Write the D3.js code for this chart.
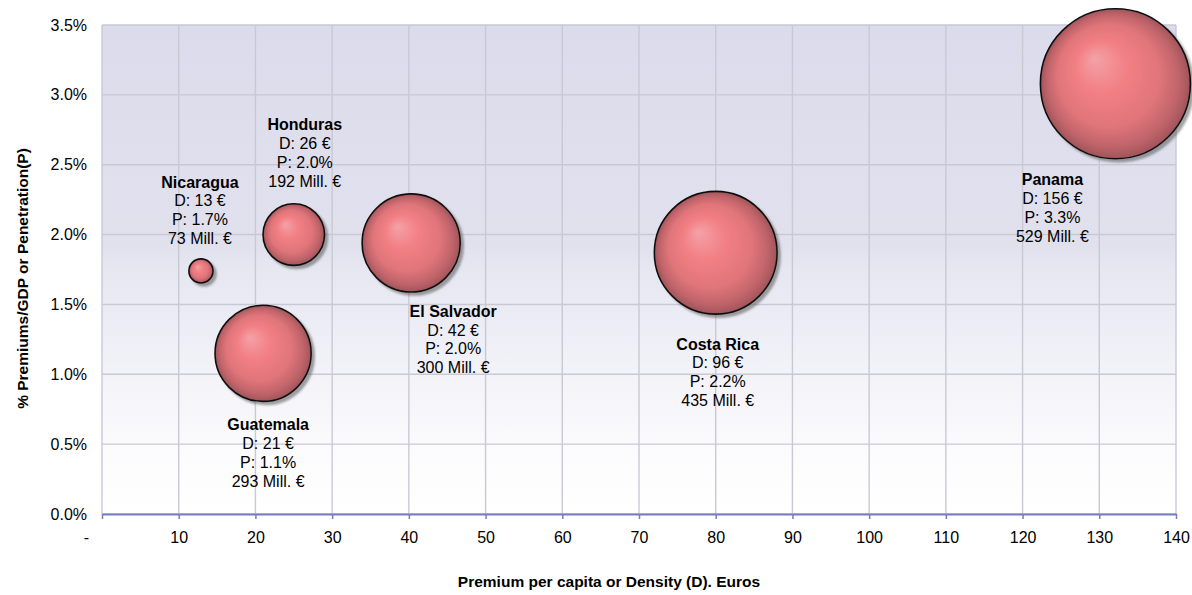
<!DOCTYPE html>
<html>
<head>
<meta charset="utf-8">
<script src="https://cdn.jsdelivr.net/npm/d3@7"></script>
<style>
  html, body { margin: 0; padding: 0; background: #ffffff; }
  svg { display: block; font-family: "Liberation Sans", Arial, Helvetica, sans-serif; }
</style>
</head>
<body>
<svg id="chart" width="1192" height="595"></svg>
<script>
// Insurance market in Central America: density vs penetration, bubble = premium volume
const countries = ["Nicaragua", "Honduras", "Guatemala", "El Salvador", "Costa Rica", "Panama"];

// plotted position of each bubble
const densityPlotted = [12.9, 25.0, 21.0, 40.3, 80.0, 132.1];        // € per capita
const penetrationPlotted = [1.74, 2.00, 1.15, 1.94, 1.87, 3.08];     // % of GDP
const bubbleVolume = [85, 217, 339, 346, 433, 529];                   // Mill. €

// figures printed in each label
const densityLabel = [13, 26, 21, 42, 96, 156];
const penetrationLabel = [1.7, 2.0, 1.1, 2.0, 2.2, 3.3];
const premiumsLabel = [73, 192, 293, 300, 435, 529];

const xTicks = [0, 10, 20, 30, 40, 50, 60, 70, 80, 90, 100, 110, 120, 130, 140];
const yTicks = [0, 0.5, 1.0, 1.5, 2.0, 2.5, 3.0, 3.5];

const xTitle = "Premium per capita or Density (D). Euros";
const yTitle = "% Premiums/GDP or Penetration(P)";

// label placement relative to bubble centre (px)
const labelOffset = {
  "Nicaragua":   [-1, -89],
  "Honduras":    [11, -110],
  "Guatemala":   [5, 71],
  "El Salvador": [42, 68],
  "Costa Rica":  [2, 91],
  "Panama":      [-63, 96]
};

const svg = d3.select("#chart");
const margin = { left: 102, top: 25, right: 16, bottom: 81 };
const W = 1192, H = 595;
const innerW = W - margin.left - margin.right;
const innerH = H - margin.top - margin.bottom;

const x = d3.scaleLinear().domain([0, 140]).range([0, innerW]);
const y = d3.scaleLinear().domain([0, 3.5]).range([innerH, 0]);
const r = d3.scaleLinear().domain([0, d3.max(bubbleVolume)]).range([0, 75]);

const defs = svg.append("defs");

const bg = defs.append("linearGradient")
  .attr("id", "plotBg").attr("x1", 0).attr("y1", 0).attr("x2", 0).attr("y2", 1);
[[0, "#dbdbeb"], [0.45, "#e1e1ee"], [0.5, "#e7e7f2"], [0.62, "#ededf6"],
 [0.74, "#f4f4f9"], [0.86, "#fbfbfd"], [1, "#ffffff"]]
  .forEach(([o, c]) => bg.append("stop").attr("offset", o).attr("stop-color", c));

const ball = defs.append("radialGradient")
  .attr("id", "ball").attr("cx", 0.5).attr("cy", 0.5).attr("r", 0.5)
  .attr("fx", 0.36).attr("fy", 0.33);
[[0, "#f3a2a8"], [0.35, "#f27f84"], [0.68, "#e0757a"], [0.88, "#c0646a"], [1, "#a0545a"]]
  .forEach(([o, c]) => ball.append("stop").attr("offset", o).attr("stop-color", c));

const shadow = defs.append("filter").attr("id", "shadow")
  .attr("x", "-20%").attr("y", "-20%").attr("width", "150%").attr("height", "150%");
shadow.append("feDropShadow")
  .attr("dx", 3).attr("dy", 3).attr("stdDeviation", 1.2)
  .attr("flood-color", "#555555").attr("flood-opacity", 0.55);

const g = svg.append("g").attr("transform", `translate(${margin.left},${margin.top})`);

// plot background
g.append("rect").attr("width", innerW).attr("height", innerH).attr("fill", "url(#plotBg)");

// gridlines
const grid = g.append("g").attr("stroke", "#c9c9d4").attr("stroke-width", 1.4);
grid.selectAll("line.gx").data(xTicks).join("line")
  .attr("x1", d => x(d)).attr("x2", d => x(d)).attr("y1", 0).attr("y2", innerH);
grid.selectAll("line.gy").data(yTicks).join("line")
  .attr("x1", 0).attr("x2", innerW).attr("y1", d => y(d)).attr("y2", d => y(d));

// x axis
const xAxis = g.append("g").attr("transform", `translate(0,${innerH})`)
  .call(d3.axisBottom(x).tickValues(xTicks).tickSize(5).tickSizeOuter(0)
    .tickFormat(d => d === 0 ? "-" : d3.format("d")(d)));
xAxis.select(".domain").attr("stroke", "#7a7ac4").attr("stroke-width", 2);
xAxis.selectAll(".tick line").attr("stroke", "#7a7ac4").attr("stroke-width", 1.5);
xAxis.selectAll(".tick text")
  .attr("font-size", 16).attr("fill", "#000").attr("font-family", null)
  .attr("y", 18).attr("dy", "0.71em")
  .attr("dx", d => d === 0 ? -16 : 0);

// y axis
const yAxis = g.append("g")
  .call(d3.axisLeft(y).tickValues(yTicks).tickSize(0).tickPadding(15)
    .tickFormat(d => d3.format(".1f")(d) + "%"));
yAxis.select(".domain").remove();
yAxis.selectAll(".tick text").attr("font-size", 16).attr("fill", "#000").attr("font-family", null);

// bubbles, largest first so smaller ones stay visible
const rows = countries.map((c, i) => ({
  name: c,
  dx: densityPlotted[i], px: penetrationPlotted[i], vol: bubbleVolume[i],
  dl: densityLabel[i], pl: penetrationLabel[i], ml: premiumsLabel[i]
}));

g.append("g").selectAll("circle")
  .data(rows.slice().sort((a, b) => b.vol - a.vol))
  .join("circle")
  .attr("cx", d => x(d.dx))
  .attr("cy", d => y(d.px))
  .attr("r", d => r(d.vol))
  .attr("fill", "url(#ball)")
  .attr("stroke", "#111")
  .attr("stroke-width", 1.6)
  .attr("filter", "url(#shadow)");

// data labels
const lineH = 18.8;
const labels = g.append("g").attr("text-anchor", "middle").attr("font-size", 16).attr("fill", "#000");
rows.forEach(d => {
  const [ox, oy] = labelOffset[d.name];
  const cx = x(d.dx) + ox;
  const cy = y(d.px) + oy + 5.8;
  const lines = [
    d.name,
    `D: ${d.dl} €`,
    `P: ${d3.format(".1f")(d.pl)}%`,
    `${d.ml} Mill. €`
  ];
  const t = labels.append("text").attr("x", cx).attr("y", cy);
  lines.forEach((s, i) => {
    t.append("tspan").attr("x", cx).attr("y", cy + i * lineH)
      .attr("font-weight", i === 0 ? "bold" : "normal")
      .text(s);
  });
});

// axis titles
svg.append("text")
  .attr("x", 609).attr("y", 587)
  .attr("text-anchor", "middle").attr("font-size", 15.5).attr("font-weight", "bold")
  .text(xTitle);

svg.append("text")
  .attr("transform", `translate(28,${margin.top + innerH / 2 + 9}) rotate(-90)`)
  .attr("text-anchor", "middle").attr("font-size", 15.5).attr("font-weight", "bold")
  .text(yTitle);
</script>
</body>
</html>
